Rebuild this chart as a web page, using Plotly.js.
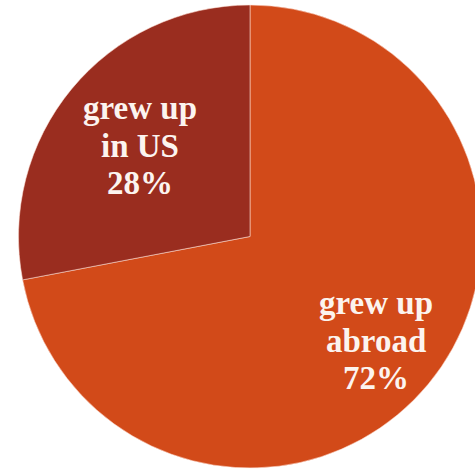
<!DOCTYPE html>
<html>
<head>
<meta charset="utf-8">
<script src="https://cdn.plot.ly/plotly-3.0.1.min.js"></script>
<style>
html, body { margin: 0; padding: 0; overflow: hidden; background: #ffffff; }
#chart { width: 500px; height: 469px; }
</style>
</head>
<body>
<div id="chart"></div>
<script>
// Data
var categories = ['grew up abroad', 'grew up in US'];
var labelLines = [['grew up', 'abroad'], ['grew up', 'in US']];
var shares = [72, 28];
var sliceColors = ['#D24A19', '#9A2D1F'];
var labelRadius = [0.705, 0.615];

var W = 500, H = 469;
var cx = 250, cy = 236.5, R = 231.5;
var lineGap = 37.5;

var trace = {
  type: 'pie',
  values: shares,
  labels: categories,
  sort: false,
  direction: 'clockwise',
  rotation: 0,
  textinfo: 'none',
  hoverinfo: 'none',
  marker: { colors: sliceColors, line: { color: 'rgba(255,225,215,0.55)', width: 1 } },
  domain: { x: [0, 1], y: [(H - cy - R) / H, (H - cy + R) / H] },
  showlegend: false
};

var total = shares.reduce(function (a, b) { return a + b; }, 0);
var annotations = [];
var start = 0;
for (var i = 0; i < shares.length; i++) {
  var mid = (start + shares[i] / 2) / total * 2 * Math.PI;
  start += shares[i];
  var px = cx + labelRadius[i] * R * Math.sin(mid);
  var py = cy - labelRadius[i] * R * Math.cos(mid);
  var lines = labelLines[i].concat([shares[i] + '%']);
  for (var k = 0; k < lines.length; k++) {
    var ly = py + (k - (lines.length - 1) / 2) * lineGap;
    annotations.push({
      xref: 'paper', yref: 'paper',
      x: px / W, y: 1 - ly / H,
      xanchor: 'center', yanchor: 'middle',
      showarrow: false,
      text: '<b>' + lines[k] + '</b>',
      font: { family: '"Liberation Serif", "Times New Roman", serif', size: 33, color: '#FCF4EF' }
    });
  }
}

var layout = {
  width: W, height: H,
  margin: { l: 0, r: 0, t: 0, b: 0 },
  paper_bgcolor: '#ffffff',
  plot_bgcolor: '#ffffff',
  annotations: annotations
};

Plotly.newPlot('chart', [trace], layout, { displayModeBar: false, staticPlot: true });
</script>
</body>
</html>
